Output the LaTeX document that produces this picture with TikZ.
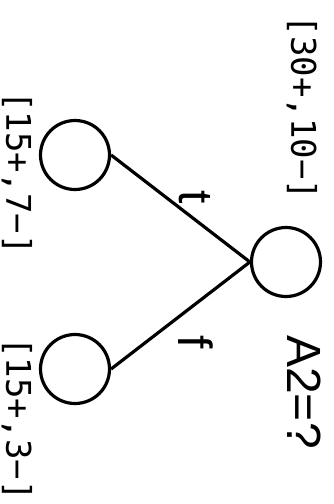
\documentclass[tikz,border=0pt]{standalone}
\usepackage{fontspec}
\setmainfont{Liberation Sans}
\setmonofont{DejaVu Sans Mono}
\begin{document}
\begin{tikzpicture}[
        x=1pt, y=-1pt,
        every node/.style={rotate=-90, inner sep=0pt},
        split/.style={draw, circle, minimum size=69pt, line width=3.2pt},
        count/.style={font=\fontsize{34}{38}\selectfont\ttfamily},
        branch/.style={font=\fontsize{48}{52}\selectfont},
        edge/.style={draw, line width=3.2pt},
    ]
    \useasboundingbox (0,0) rectangle (333,504);
    \node[split](root) at (286,262){};
    \node[split](t) at (75,155){};
    \node[split](f) at (75,369){};
    \draw[edge] (root.south) to (t.north);
    \draw[edge] (root.south) to (f.north);
    % labels
    \node[count](rootcount) at (302,108){[30+,10−]};
    \node[count](tcount) at (17,173){[15+,7−]};
    \node[count](fcount) at (17,419){[15+,3−]};
    \node[branch](test) at (304,392){A2=?};
    \node[branch](tlabel) at (195,197){t};
    \node[branch](flabel) at (196,342){f};
\end{tikzpicture}
\end{document}
